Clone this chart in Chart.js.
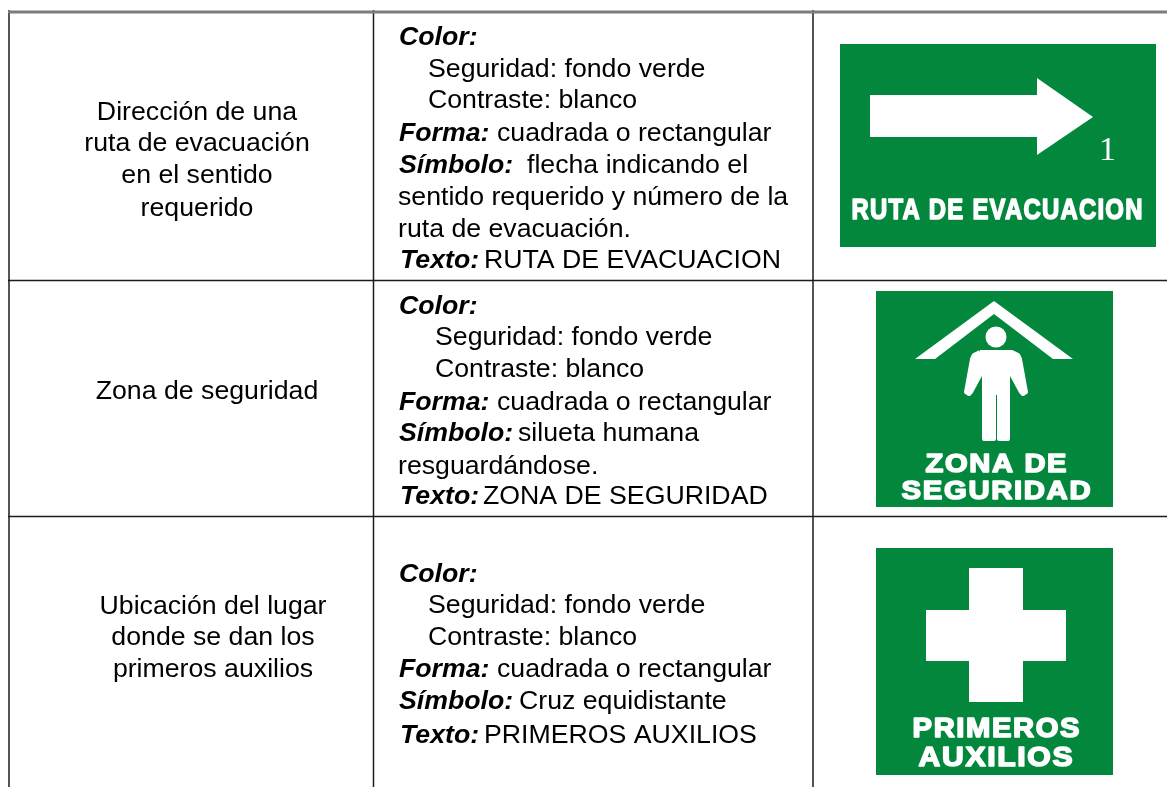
<!DOCTYPE html>
<html>
<head>
<meta charset="utf-8">
<script src="https://cdn.jsdelivr.net/npm/chart.js@4"></script>
<style>
  html, body { margin: 0; padding: 0; background: #fff; overflow: hidden; }
  canvas { display: block; }
</style>
</head>
<body>
<canvas id="chart" width="1167" height="787"></canvas>
<script>
  const leftColumn = [
    ["Dirección de una", "ruta de evacuación", "en el sentido", "requerido"],
    ["Zona de seguridad"],
    ["Ubicación del lugar", "donde se dan los", "primeros auxilios"],
  ];

  // [bold italic part, regular part]
  const middleRow1 = [
    ["Color:", ""],
    ["", "Seguridad: fondo verde"],
    ["", "Contraste: blanco"],
    ["Forma:", "cuadrada o rectangular"],
    ["Símbolo:", "flecha indicando el"],
    ["", "sentido requerido y número de la"],
    ["", "ruta de evacuación."],
    ["Texto:", "RUTA DE EVACUACION"],
  ];
  const middleRow2 = [
    ["Color:", ""],
    ["", "Seguridad: fondo verde"],
    ["", "Contraste: blanco"],
    ["Forma:", "cuadrada o rectangular"],
    ["Símbolo:", "silueta humana"],
    ["", "resguardándose."],
    ["Texto:", "ZONA DE SEGURIDAD"],
  ];
  const middleRow3 = [
    ["Color:", ""],
    ["", "Seguridad: fondo verde"],
    ["", "Contraste: blanco"],
    ["Forma:", "cuadrada o rectangular"],
    ["Símbolo:", "Cruz equidistante"],
    ["Texto:", "PRIMEROS AUXILIOS"],
  ];

  // outlines, in the units of the x and y scales
  const sign1 = [[840, 44], [1156, 44], [1156, 247], [840, 247]];
  const sign2 = [[876, 291], [1113, 291], [1113, 507], [876, 507]];
  const sign3 = [[876, 548], [1113, 548], [1113, 775], [876, 775]];
  const arrow = [[870, 95], [1037, 95], [1037, 78], [1093, 117], [1037, 155], [1037, 137], [870, 137]];
  const roof = [[994, 301], [1073, 359], [1053, 359], [994, 314], [935, 359], [915, 359]];
  const head = [[996, 337]];
  const body = [
    [980, 352], [1012, 352], [1018, 355], [1020, 359], [1026, 392], [1023, 394], [1021, 392], [1008, 368],
    [1008, 439], [999, 439], [999, 393], [994, 393], [994, 439], [984, 439], [984, 368],
    [971, 392], [969, 394], [966, 392], [972, 359], [974, 355], [980, 352],
  ];
  const cross = [
    [969, 568], [1023, 568], [1023, 610], [1066, 610], [1066, 661], [1023, 661],
    [1023, 702], [969, 702], [969, 661], [926, 661], [926, 610], [969, 610],
  ];

  const rulesHeavy = [
    [[8, 12], [1167, 12]],
  ];
  const rulesDark = [
    [[8, 280.5], [1167, 280.5]],
    [[8, 516.5], [1167, 516.5]],
    [[373.5, 10], [373.5, 787]],
  ];
  const rulesGrey = [
    [[9, 10], [9, 787]],
    [[813, 10], [813, 787]],
  ];

  const GREEN = "#02873d";
  const SANS = '"Liberation Sans", Arial, sans-serif';
  const BODY_SIZE = 26.7;

  const toPoints = (list) => list.map(([x, y]) => ({ x, y }));

  function shape(points, color, border) {
    return {
      data: toPoints(points),
      showLine: true,
      fill: "shape",
      backgroundColor: color,
      borderColor: color,
      borderWidth: border || 0,
      borderJoinStyle: "round",
      pointRadius: 0,
      tension: 0,
    };
  }

  function rule(points, color, width) {
    return {
      data: toPoints(points),
      showLine: true,
      fill: false,
      borderColor: color,
      borderWidth: width,
      pointRadius: 0,
    };
  }

  // Chart.js paints the first dataset last, so the top layer comes first
  const datasets = [
    shape(cross, "#ffffff"),
    { data: toPoints(head), pointRadius: 10.5, pointBackgroundColor: "#ffffff", pointBorderWidth: 0 },
    shape(body, "#ffffff", 4),
    shape(roof, "#ffffff"),
    shape(arrow, "#ffffff"),
    shape(sign3, GREEN),
    shape(sign2, GREEN),
    shape(sign1, GREEN),
    ...rulesHeavy.map((r) => rule(r, "#7c7c7c", 3)),
    ...rulesDark.map((r) => rule(r, "#1c1c1c", 1.5)),
    ...rulesGrey.map((r) => rule(r, "#555555", 2)),
  ];

  function fitText(ctx, text, left, right, baseline, size) {
    ctx.font = `bold ${size}px ${SANS}`;
    ctx.letterSpacing = "1.5px";
    const width = ctx.measureText(text).width - 1.5;
    ctx.save();
    ctx.translate(left, baseline);
    ctx.scale((right - left - 1) / width, 1);
    ctx.fillStyle = "#ffffff";
    ctx.strokeStyle = "#ffffff";
    ctx.lineWidth = 1.6;
    ctx.lineJoin = "round";
    ctx.strokeText(text, 0.5, 0);
    ctx.fillText(text, 0.5, 0);
    ctx.restore();
    ctx.letterSpacing = "0px";
  }

  function drawMiddle(ctx, lines, baselines, starts, valueStarts) {
    lines.forEach(([label, value], i) => {
      ctx.fillStyle = "#000000";
      if (label) {
        ctx.font = `italic bold ${BODY_SIZE}px ${SANS}`;
        ctx.fillText(label, starts[i], baselines[i]);
      }
      if (value) {
        ctx.font = `${BODY_SIZE}px ${SANS}`;
        ctx.fillText(value, valueStarts[i], baselines[i]);
      }
    });
  }

  const textPlugin = {
    id: "tableText",
    afterDatasetsDraw(chart) {
      const ctx = chart.ctx;
      ctx.save();
      ctx.textBaseline = "alphabetic";

      ctx.textAlign = "center";
      ctx.fillStyle = "#000000";
      ctx.font = `${BODY_SIZE}px ${SANS}`;
      [[120, 151, 183, 216], [399], [614, 645, 677]].forEach((baselines, r) => {
        const center = [197, 207, 213][r];
        leftColumn[r].forEach((line, i) => ctx.fillText(line, center, baselines[i]));
      });

      ctx.textAlign = "left";
      drawMiddle(ctx, middleRow1,
        [45, 77, 108, 141, 173, 205, 237, 268],
        [399, 428, 428, 399, 399, 398, 398, 400],
        [399, 428, 428, 497, 527, 398, 398, 484]);
      drawMiddle(ctx, middleRow2,
        [314, 345, 377, 410, 441, 474, 504],
        [399, 435, 435, 399, 399, 398, 400],
        [399, 435, 435, 497, 518, 398, 483]);
      drawMiddle(ctx, middleRow3,
        [582, 613, 645, 677, 709, 743],
        [399, 428, 428, 399, 399, 400],
        [399, 428, 428, 497, 519, 484]);

      fitText(ctx, "RUTA DE EVACUACION", 851, 1143, 219, 29);
      fitText(ctx, "ZONA DE", 925, 1067, 472, 26.5);
      fitText(ctx, "SEGURIDAD", 901, 1091, 498.5, 26.5);
      fitText(ctx, "PRIMEROS", 912, 1080, 737, 27);
      fitText(ctx, "AUXILIOS", 918, 1073, 765.5, 27);

      ctx.fillStyle = "#ffffff";
      ctx.font = '34px "Liberation Serif", serif';
      ctx.fillText("1", 1099, 160);
      ctx.restore();
    },
  };

  new Chart(document.getElementById("chart"), {
    type: "scatter",
    data: { datasets },
    plugins: [textPlugin],
    options: {
      responsive: false,
      animation: false,
      layout: { padding: 0, autoPadding: false },
      plugins: { legend: { display: false }, tooltip: { enabled: false } },
      scales: {
        x: { type: "linear", min: 0, max: 1167, display: false },
        y: { type: "linear", min: 0, max: 787, reverse: true, display: false },
      },
    },
  });
</script>
</body>
</html>
